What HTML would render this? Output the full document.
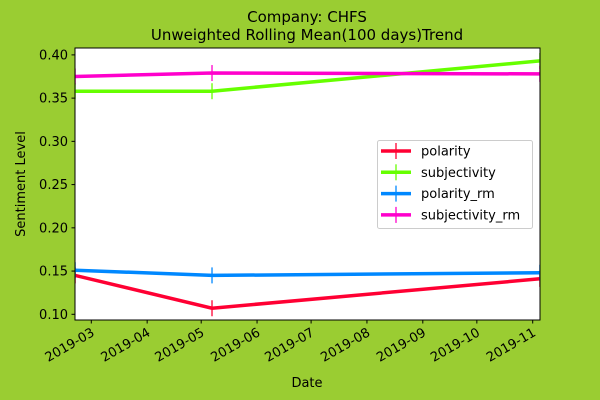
<!DOCTYPE html>
<html><head><meta charset="utf-8"><style>
html,body{margin:0;padding:0;background:#9acd32;}
svg{display:block;font-family:"DejaVu Sans","Liberation Sans",sans-serif;}
</style></head><body>
<svg id="chart" width="600" height="400">
<rect width="600" height="400" fill="#9acd32"/>
<text x="307" y="22" font-size="15" text-anchor="middle">Company: CHFS</text>
<text x="307" y="40" font-size="15" text-anchor="middle">Unweighted Rolling Mean(100 days)Trend</text>
<defs><clipPath id="clip"><rect x="75" y="48" width="465" height="272"/></clipPath></defs>
<rect x="75" y="48" width="465" height="272" fill="#fff"/>
<g id="series" clip-path="url(#clip)"></g>
<rect x="75" y="48" width="465" height="272" fill="none" stroke="#000" stroke-width="1"/>
<g id="axes"></g>
<text x="307" y="387" font-size="13" text-anchor="middle">Date</text>
<text transform="translate(25,184) rotate(-90)" font-size="13" text-anchor="middle">Sentiment Level</text>
<g id="legend"></g>
</svg>
<script>
const dates = ["2019-02-20","2019-05-07","2019-11-05"];
const seriesNames = ["polarity","subjectivity","polarity_rm","subjectivity_rm"];
const polarity = [0.145,0.107,0.141];
const subjectivity = [0.358,0.358,0.393];
const polarity_rm = [0.151,0.145,0.148];
const subjectivity_rm = [0.375,0.379,0.378];
const yTicks = [0.10,0.15,0.20,0.25,0.30,0.35,0.40];
const xTicks = ["2019-03","2019-04","2019-05","2019-06","2019-07","2019-08","2019-09","2019-10","2019-11"];
const colors = ["#ff0033","#66ff00","#0088ff","#ff00cc"];
const NS="http://www.w3.org/2000/svg";
const day = s => Date.parse(s.length===7? s+"-01":s)/86400000;
const x0=day("2019-03-01"), x1=day("2019-11-01");
const X = d => 91.3 + (day(d)-x0)*(532.7-91.3)/(x1-x0);
const Y = v => 314.3 - (v-0.1)*864.7;
function mk(tag,attrs,parent){const e=document.createElementNS(NS,tag);for(const k in attrs)e.setAttribute(k,attrs[k]);parent.appendChild(e);return e;}
const axes=document.getElementById('axes');
yTicks.forEach(t=>{
  const y=Y(t);
  const l=mk('line',{x1:71.5,x2:75,y1:y,y2:y,stroke:'#000'},axes);
  
  
  const tx=mk('text',{x:68,y:y+4.5,'font-size':13,'text-anchor':'end'},axes);
  tx.textContent=t.toFixed(2);
  
  
});
xTicks.forEach(t=>{
  const x=X(t);
  const l=mk('line',{x1:x,x2:x,y1:320,y2:323.5,stroke:'#000'},axes);
  
  
  const tx=mk('text',{transform:`translate(${x+4},${335}) rotate(-30)`,'font-size':13,'text-anchor':'end'},axes);
  tx.textContent=t;
  
  
});
const sg=document.getElementById('series');
[polarity,subjectivity,polarity_rm,subjectivity_rm].forEach((vals,i)=>{
  const pts=vals.map((v,j)=>X(dates[j]).toFixed(1)+","+Y(v).toFixed(1)).join(" ");
  const pl=mk('polyline',{points:pts,fill:'none',stroke:colors[i],'stroke-width':3.5},sg);
  
  
  vals.forEach((v,j)=>{
    const m=mk('line',{x1:X(dates[j]),x2:X(dates[j]),y1:Y(v)-8,y2:Y(v)+8,stroke:colors[i],'stroke-width':1.3},sg);
    
    
  });
});
const lg=document.getElementById('legend');
const box=mk('rect',{x:377.5,y:140.5,width:155,height:88,rx:2,fill:'#fff','fill-opacity':0.8,stroke:'#ccc'},lg);


seriesNames.forEach((n,i)=>{
  const y=151+i*21.3;
  const l=mk('line',{x1:381,x2:411,y1:y,y2:y,stroke:colors[i],'stroke-width':3.5},lg);
  
  
  const m=mk('line',{x1:396,x2:396,y1:y-8,y2:y+8,stroke:colors[i],'stroke-width':1.3},lg);
  
  
  const t=mk('text',{x:421,y:y+4.5,'font-size':13},lg);
  t.textContent=n;
  
  
});
</script>
</body></html>
